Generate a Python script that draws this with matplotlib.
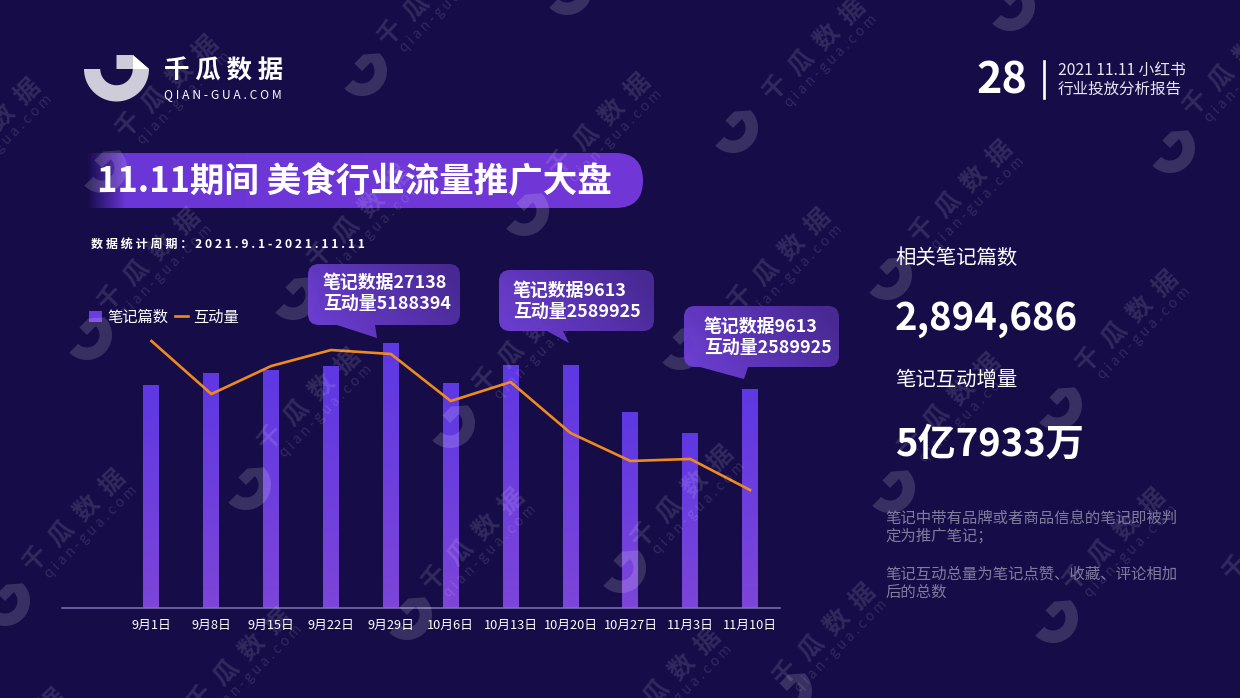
import numpy as np
import matplotlib
matplotlib.use('Agg')
import matplotlib.pyplot as plt
from matplotlib.colors import LinearSegmentedColormap, to_rgb
from matplotlib.patches import PathPatch, Polygon, FancyBboxPatch
from matplotlib.path import Path

plt.rcParams['font.family'] = ['Noto Sans CJK SC', 'DejaVu Sans']

# chart data
dates = ['9月1日', '9月8日', '9月15日', '9月22日', '9月29日', '10月6日',
         '10月13日', '10月20日', '10月27日', '11月3日', '11月10日']
notes = [22840, 24070, 24370, 24780, 27138, 23040, 24890, 24890, 20070, 17920, 22430]
interactions = [5454000, 4371000, 4943000, 5270000, 5188394, 4228000,
                4616000, 3575000, 3003000, 3044000, 2410000]

BG = '#160c48'
WIDTH, HEIGHT = 1240, 698

# watermark spots
wm_text_pos = [(168, 87), (600, 125), (430, -5), (815, 50), (-10, 130), (1235, 65), (962, 192),
               (150, 260), (360, 217), (780, 260), (310, 400), (525, 342), (1128, 322),
               (950, 405), (75, 521), (474, 540), (683, 497), (1115, 540), (825, 635),
               (240, 660), (15, 740), (670, 680), (1275, 530)]
wm_logo_pos = [(362, 71), (733, 128), (1170, 148), (102, 168), (524, 211), (293, 295), (887, 275),
               (87, 335), (680, 345), (450, 423), (1057, 405), (246, 485), (890, 488),
               (621, 568), (407, 615), (1053, 618), (5, 601), (567, -10), (1010, 6), (787, 691)]


def logo_points(cx, cy, r, rot=0):
    """Outline of the C shaped logo, in pixel coords (y pointing down)."""
    t = np.linspace(np.pi, 2 * np.pi, 40)
    outer = np.c_[np.cos(t), np.sin(t)]
    inner = 0.5 * outer[::-1]
    tip = np.array([[0.5, 0.43], [0, 0.43], [0, 0], [0.5, 0]])
    pts = np.vstack([outer, tip, inner])
    a = np.radians(rot)
    x = pts[:, 0] * np.cos(a) - pts[:, 1] * np.sin(a)
    y = pts[:, 0] * np.sin(a) + pts[:, 1] * np.cos(a)
    return np.c_[cx + r * x, cy - r * y]


def callout_path(x0, y0, x1, y1, tail, r=11):
    """Rounded box with a pointer on its bottom edge. y grows downward."""
    (tl, tip, tr) = tail
    verts = [(x0 + r, y0), (x1 - r, y0), (x1, y0), (x1, y0 + r), (x1, y1 - r), (x1, y1), (x1 - r, y1),
             (tr, y1), tip, (tl, y1), (x0 + r, y1), (x0, y1), (x0, y1 - r), (x0, y0 + r), (x0, y0),
             (x0 + r, y0), (x0 + r, y0)]
    codes = [Path.MOVETO, Path.LINETO, Path.CURVE3, Path.CURVE3, Path.LINETO, Path.CURVE3, Path.CURVE3,
             Path.LINETO, Path.LINETO, Path.LINETO, Path.LINETO, Path.CURVE3, Path.CURVE3, Path.LINETO,
             Path.CURVE3, Path.CURVE3, Path.CLOSEPOLY]
    return Path(verts, codes)


fig = plt.figure(figsize=(WIDTH / 100, HEIGHT / 100), dpi=100, facecolor=BG)

# background layer, title pill sits here
back = fig.add_axes([0, 0, 1, 1], zorder=0)
back.set_xlim(0, WIDTH)
back.set_ylim(HEIGHT, 0)
back.axis('off')

pill = FancyBboxPatch((40, 153), 603, 55, boxstyle='round,pad=0,rounding_size=27.5',
                      facecolor='none', edgecolor='none')
back.add_patch(pill)
c = np.array(to_rgb('#6b36d8'))
c2 = np.array(to_rgb('#7238d6'))
xs = np.linspace(0, 1, 300)
grad = np.zeros((1, 300, 4))
grad[0, :, :3] = c[None, :] * (1 - xs[:, None]) + c2[None, :] * xs[:, None]
grad[0, :, 3] = np.clip(xs / 0.07, 0, 1)
im = back.imshow(grad, extent=(86, 643, 208, 153), aspect='auto', zorder=1)
im.set_clip_path(pill)
back.set_xlim(0, WIDTH)
back.set_ylim(HEIGHT, 0)

# chart, placed by pixels
left, right, bottom, top = 62, 780, 608, 300
ax = fig.add_axes([left / WIDTH, 1 - bottom / HEIGHT, (right - left) / WIDTH, (bottom - top) / HEIGHT],
                  zorder=1)
ax.patch.set_alpha(0)
x = np.arange(len(dates))
bars = ax.bar(x, notes, width=0.267, color='#6a3de0', label='笔记篇数')
ax.set_xlim(-1.495, 10.5)
ax.set_ylim(0, 31542)
bar_cmap = LinearSegmentedColormap.from_list('bar', ['#5e38e3', '#7d45d8'])
for b in bars:
    gi = ax.imshow(np.linspace(0, 1, 64)[:, None], cmap=bar_cmap, aspect='auto', zorder=2,
                   extent=(b.get_x(), b.get_x() + b.get_width(), 0, b.get_height()), origin='upper')
    gi.set_clip_path(b)
ax.set_xlim(-1.495, 10.5)
ax.set_ylim(0, 31542)
ax.set_xticks(x, dates)
ax.tick_params(axis='x', length=0, pad=8, labelsize=9.2, labelcolor='white')
ax.set_yticks([])
for s in ['top', 'left', 'right']:
    ax.spines[s].set_visible(False)
ax.spines['bottom'].set_color('#7d74b4')
ax.spines['bottom'].set_linewidth(1.1)

ax2 = ax.twinx()
ax2.set_zorder(2)
ax2.patch.set_alpha(0)
line, = ax2.plot(x, interactions, color='#ee8a1e', lw=1.9, label='互动量', zorder=3)
ax2.set_ylim(0, 6291500)
ax2.set_yticks([])
for s in ax2.spines.values():
    s.set_visible(False)

leg = ax2.legend([bars, line], ['笔记篇数', '互动量'], loc='center left', frameon=False, ncols=2,
                 bbox_to_anchor=((89 - 62) / (right - left), (608 - 317) / (bottom - top)),
                 borderpad=0, borderaxespad=0, handlelength=0.85, handletextpad=0.33, columnspacing=0.45,
                 labelcolor='white', fontsize=11)

# overlay with watermark, callouts and all free text, in pixel coords
over = fig.add_axes([0, 0, 1, 1], zorder=5)
over.set_xlim(0, WIDTH)
over.set_ylim(HEIGHT, 0)
over.axis('off')
over.patch.set_alpha(0)

for (wx, wy) in wm_logo_pos:
    over.add_patch(Polygon(logo_points(wx, wy, 25, rot=45), closed=True, facecolor='white',
                           edgecolor='none', alpha=0.15, zorder=1))
for (wx, wy) in wm_text_pos:
    over.text(wx, wy, '千  瓜  数  据', color='white', alpha=0.12, fontsize=18, fontweight='bold',
              rotation=45, ha='center', va='center', rotation_mode='anchor', zorder=1, clip_on=True)
    over.text(wx + 16, wy + 11, 'q i a n - g u a . c o m', color='white', alpha=0.12, fontsize=10,
              rotation=45, ha='center', va='center', rotation_mode='anchor', zorder=1, clip_on=True)

# header logo
over.add_patch(Polygon(logo_points(116.5, 69, 32.5), closed=True, facecolor='#cfccd9', edgecolor='none', zorder=3))
over.add_patch(Polygon([(133, 55), (149, 69), (133, 69)], closed=True, facecolor='white', edgecolor='none', zorder=3))
over.text(164, 71, '千 瓜 数 据', color='white', fontsize=18.4, fontweight='bold', va='center', zorder=4)
over.text(164, 95, 'Q I A N - G U A . C O M', color='white', fontsize=8.7, va='center', zorder=4)

# page number
over.text(976, 80, '28', color='white', fontsize=31, fontweight='bold', va='center', zorder=4)
over.plot([1043.5, 1043.5], [61, 98], color='white', lw=1.9, zorder=4)
over.text(1058, 70, '2021 11.11 小红书', color='#e9e7f2', fontsize=11.3, va='center', zorder=4)
over.text(1058, 89, '行业投放分析报告', color='#e9e7f2', fontsize=11.2, va='center', zorder=4)

# title
over.text(97, 182, '11.11期间 美食行业流量推广大盘', color='white', fontsize=24.85, fontweight='bold',
          va='center', zorder=4)
over.text(91, 244, ' '.join('数据统计周期：2021.9.1-2021.11.11'), color='white', fontsize=8.7,
          fontweight='bold', va='center', zorder=4)

# callouts
box_cmap = LinearSegmentedColormap.from_list('box', ['#6f40d6', '#4b2b98'])
callouts = [
    ((308, 264, 460, 325), (337, 377, 375, 338), (323, 283, 304), '笔记数据27138', '互动量5188394'),
    ((499, 270, 654, 331), (547, 569, 563, 343), (513, 291, 312), '笔记数据9613', '互动量2589925'),
    ((684, 306, 839, 367), (700, 744, 748, 379), (704, 327, 348), '笔记数据9613', '互动量2589925'),
]
for (x0, y0, x1, y1), (tl, tx, tr, ty), (px, l1, l2), s1, s2 in callouts:
    path = callout_path(x0, y0, x1, y1, (tl, (tx, ty), tr))
    patch = PathPatch(path, facecolor='none', edgecolor='none', zorder=2)
    over.add_patch(patch)
    xx, yy = np.meshgrid(np.linspace(0, 1, 80), np.linspace(0, 1, 40))
    gi = over.imshow(np.clip(xx * 0.85 + (1 - yy) * 0.35 - 0.1, 0, 1), cmap=box_cmap, vmin=0, vmax=1,
                     extent=(x0, x1, ty, y0), aspect='auto', zorder=2, alpha=0.96)
    gi.set_clip_path(patch)
    over.text(px, l1, s1, color='white', fontsize=12.9, fontweight='bold', va='center', zorder=4)
    over.text(px, l2, s2, color='white', fontsize=12.9, fontweight='bold', va='center', zorder=4)
over.set_xlim(0, WIDTH)
over.set_ylim(HEIGHT, 0)

# right panel
over.text(895, 259, '相关笔记篇数', color='white', fontsize=14.7, fontweight='medium', va='center', zorder=4)
over.text(895, 319, '2,894,686', color='white', fontsize=27.6, fontweight='bold', va='center', zorder=4)
over.text(895, 380, '笔记互动增量', color='white', fontsize=14.7, fontweight='medium', va='center', zorder=4)
over.text(895, 444, '5亿7933万', color='white', fontsize=27.5, fontweight='bold', va='center', zorder=4)
for txt, ty in [('笔记中带有品牌或者商品信息的笔记即被判', 518), ('定为推广笔记；', 536),
                ('笔记互动总量为笔记点赞、收藏、评论相加', 574), ('后的总数', 592)]:
    over.text(885, ty, txt, color='#7f7c9c', fontsize=11.1, va='center', zorder=4)

plt.savefig('out.png', dpi=100, facecolor=BG)
plt.close()
